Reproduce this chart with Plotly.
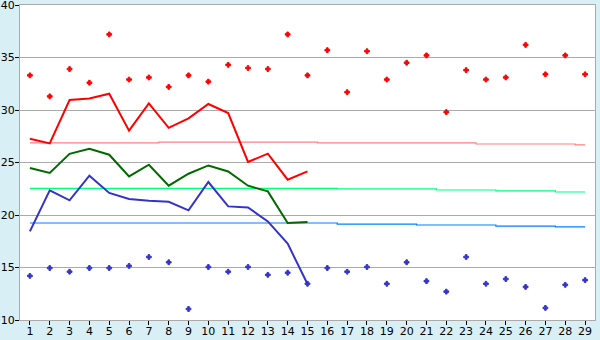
import plotly.graph_objects as go

days = list(range(1, 30))

max_points = [33.3, 31.3, 33.9, 32.6, 37.2, 32.9, 33.1, 32.2, 33.3, 32.7,
              34.3, 34.0, 33.9, 37.2, 33.3, 35.7, 31.7, 35.6, 32.9, 34.5,
              35.2, 29.8, 33.8, 32.9, 33.1, 36.2, 33.4, 35.2, 33.4]
min_points = [14.2, 14.95, 14.6, 14.95, 14.95, 15.15, 16.0, 15.5, 11.05, 15.05,
              14.6, 15.05, 14.3, 14.5, 13.45, 14.95, 14.6, 15.05, 13.45, 15.5,
              13.7, 12.7, 16.0, 13.45, 13.9, 13.15, 11.15, 13.35, 13.8]

line_days = list(range(1, 16))
max_line = [27.27, 26.82, 30.95, 31.1, 31.55, 28.03, 30.63, 28.3, 29.2, 30.57,
            29.71, 25.05, 25.84, 23.36, 24.15]
mean_line = [24.48, 24.0, 25.83, 26.3, 25.74, 23.68, 24.79, 22.79, 23.93, 24.72,
             24.15, 22.79, 22.25, 19.24, 19.33]
min_line = [18.44, 22.35, 21.4, 23.74, 22.1, 21.52, 21.36, 21.26, 20.44, 23.14,
            20.82, 20.72, 19.39, 17.27, 13.43]

normal_max = [26.86]*7 + [26.95]*8 + [26.86]*8 + [26.76]*5 + [26.67]
normal_mean = [22.53]*16 + [22.48]*5 + [22.38]*3 + [22.29]*3 + [22.19]*2
normal_min = [19.24]*16 + [19.14]*4 + [19.05]*4 + [18.95]*3 + [18.86]*2

fig = go.Figure()

fig.add_trace(go.Scatter(x=days, y=normal_max, mode="lines", line=dict(color="#ff8080", width=1.2, shape="hvh")))
fig.add_trace(go.Scatter(x=days, y=normal_mean, mode="lines", line=dict(color="#00ff80", width=1.2, shape="hvh")))
fig.add_trace(go.Scatter(x=days, y=normal_min, mode="lines", line=dict(color="#0080ff", width=1.2, shape="hvh")))

fig.add_trace(go.Scatter(x=line_days, y=max_line, mode="lines", line=dict(color="#ff0000", width=2)))
fig.add_trace(go.Scatter(x=line_days, y=mean_line, mode="lines", line=dict(color="#006a00", width=2)))
fig.add_trace(go.Scatter(x=line_days, y=min_line, mode="lines", line=dict(color="#3333cc", width=2)))

fig.add_trace(go.Scatter(x=days, y=max_points, mode="markers",
                         marker=dict(symbol="cross", size=4, color="#ff0000",
                                     line=dict(width=1, color="#ff0000"))))
fig.add_trace(go.Scatter(x=days, y=min_points, mode="markers",
                         marker=dict(symbol="cross", size=4, color="#3333cc",
                                     line=dict(width=1, color="#3333cc"))))

fig.update_layout(
    width=600, height=340,
    margin=dict(l=20, r=5, t=5, b=20),
    paper_bgcolor="#d9eff6",
    plot_bgcolor="#ffffff",
    showlegend=False,
    font=dict(family="DejaVu Sans", size=11, color="#000000"),
)
fig.update_xaxes(range=[0.5, 29.5], tickmode="array", tickvals=days,
                 ticktext=[str(d) for d in days],
                 showgrid=False, zeroline=False, automargin=False,
                 ticks="outside", ticklen=4, tickcolor="#000000", tickwidth=1,
                 showline=True, linecolor="#aaaaaa", linewidth=1, mirror=True,
                 tickfont=dict(size=11), ticklabeloverflow="allow",
                 ticklabelstandoff=-3)
fig.update_yaxes(range=[10, 40], tickmode="array",
                 tickvals=[10, 15, 20, 25, 30, 35, 40],
                 ticktext=["10", "15", "20", "25", "30", "35", "40"],
                 showgrid=True, gridcolor="#aaaaaa", gridwidth=1, zeroline=False,
                 automargin=False,
                 ticks="outside", ticklen=4, tickcolor="#000000", tickwidth=1,
                 showline=True, linecolor="#aaaaaa", linewidth=1, mirror=True,
                 tickfont=dict(size=11), ticklabeloverflow="allow",
                 ticklabelstandoff=-2)

fig.write_html("out.html")
